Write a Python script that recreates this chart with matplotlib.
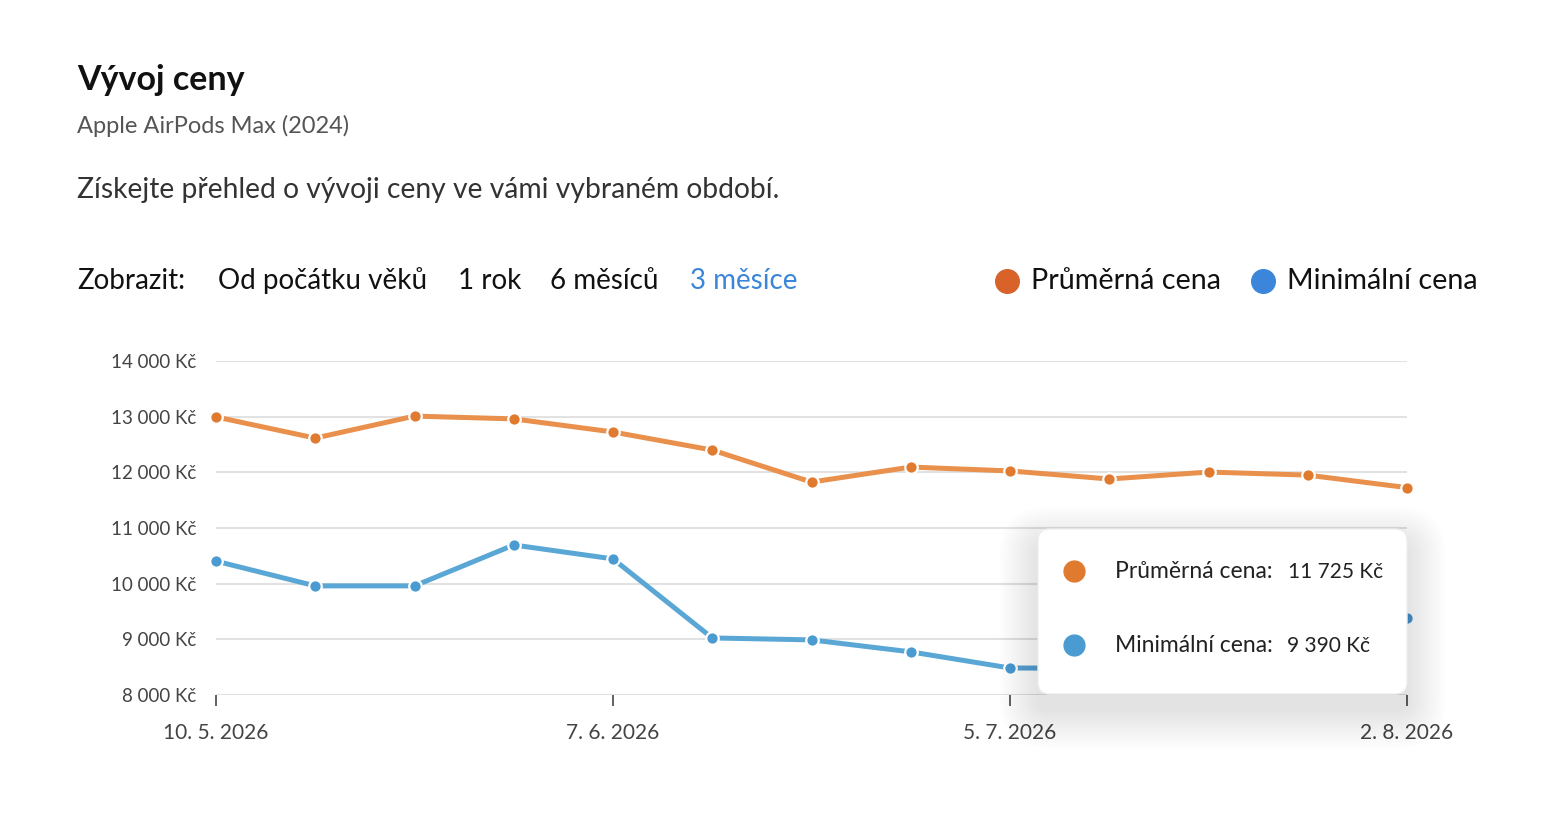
import matplotlib
matplotlib.use("Agg")
import matplotlib.pyplot as plt
from matplotlib.patches import FancyBboxPatch
import pandas as pd

plt.rcParams['font.family'] = ['Lato', 'DejaVu Sans']

# ---- data ----
dates = ["2026-05-10", "2026-05-17", "2026-05-24", "2026-05-31", "2026-06-07",
         "2026-06-14", "2026-06-21", "2026-06-28", "2026-07-05", "2026-07-12",
         "2026-07-19", "2026-07-26", "2026-08-02"]
avg_price = [12995, 12615, 13010, 12960, 12725, 12400, 11825, 12095, 12025,
             11880, 12005, 11950, 11725]
min_price = [10405, 9960, 9960, 10695, 10445, 9025, 8990, 8775, 8485,
             8480, 8560, 8830, 9390]
tick_dates = ["2026-05-10", "2026-06-07", "2026-07-05", "2026-08-02"]
tick_labels = ["10. 5. 2026", "7. 6. 2026", "5. 7. 2026", "2. 8. 2026"]
y_ticks = [8000, 9000, 10000, 11000, 12000, 13000, 14000]
y_labels = ["8 000 Kč", "9 000 Kč", "10 000 Kč", "11 000 Kč", "12 000 Kč",
            "13 000 Kč", "14 000 Kč"]
periods = ["Od počátku věků", "1 rok", "6 měsíců", "3 měsíce"]
series_names = ["Průměrná cena", "Minimální cena"]

W, H = 1544, 824
fig = plt.figure(figsize=(W / 100, H / 100), dpi=100)
fig.patch.set_facecolor("white")

x = pd.to_datetime(dates)
ax = fig.add_axes([216 / W, 1 - 695 / H, (1407 - 216) / W, (695 - 361) / H])
ax.set_facecolor("none")

ORANGE_L, ORANGE_M = "#E8904C", "#E07A2F"
BLUE_L, BLUE_M = "#5AA7D6", "#4A9BD1"

ax.plot(x, avg_price, color=ORANGE_L, lw=3.6, zorder=3, clip_on=False,
        solid_capstyle="round")
ax.plot(x, avg_price, ls="none", marker="o", ms=9, mfc=ORANGE_M, mec="white",
        mew=1.6, zorder=4, clip_on=False)
ax.plot(x, min_price, color=BLUE_L, lw=3.6, zorder=3, clip_on=False,
        solid_capstyle="round")
ax.plot(x, min_price, ls="none", marker="o", ms=9, mfc=BLUE_M, mec="white",
        mew=1.6, zorder=4, clip_on=False)

ax.set_xlim(x[0], x[-1])
ax.set_ylim(8000, 14000)
ax.set_yticks(y_ticks)
ax.set_yticklabels(y_labels)
ax.set_xticks(pd.to_datetime(tick_dates))
ax.set_xticklabels(tick_labels)
ax.grid(axis="y", color="#E2E2E2", lw=1.5, zorder=0)
ax.set_axisbelow(True)
for s in ax.spines.values():
    s.set_visible(False)
ax.tick_params(axis="y", length=0, pad=14, labelsize=13.5, labelcolor="#444444")
ax.tick_params(axis="x", length=8, width=1.3, color="#555555", pad=12,
               labelsize=15, labelcolor="#444444", direction="out")

# ---- overlay in pixel coordinates ----
ov = fig.add_axes([0, 0, 1, 1], zorder=10)
ov.set_xlim(0, W)
ov.set_ylim(H, 0)
ov.axis("off")
ov.patch.set_alpha(0)

ov.text(77, 80, "Vývoj ceny", fontsize=24.5, fontweight="bold", color="#111111",
        va="center", ha="left")
ov.text(77, 126, "Apple AirPods Max (2024)", fontsize=17, color="#555555",
        va="center", ha="left")
ov.text(77, 190, "Získejte přehled o vývoji ceny ve vámi vybraném období.",
        fontsize=20.3, color="#333333", va="center", ha="left")

ov.text(77, 281, "Zobrazit:", fontsize=20, color="#111111", va="center")
period_x = [218, 458, 550, 690]
for px, lab in zip(period_x, periods):
    ov.text(px, 281, lab, fontsize=20,
            color="#3B86D8" if lab == "3 měsíce" else "#111111", va="center")

# legend
ov.plot([1007], [281], marker="o", ms=17, color="#D8622A", ls="none")
ov.text(1031, 281, series_names[0], fontsize=20.7, color="#111111", va="center")
ov.plot([1263], [281], marker="o", ms=17, color="#3B86DB", ls="none")
ov.text(1287, 281, series_names[1], fontsize=20.7, color="#111111", va="center")

# tooltip shadow + box
bx0, by0, bx1, by1 = 1038, 529, 1407, 694
n = 14
for i in range(n):
    g = 2 + i * 2.8
    ov.add_patch(FancyBboxPatch((bx0 - g, by0 - g + 16), bx1 - bx0 + 2 * g,
                                by1 - by0 + 2 * g,
                                boxstyle="round,pad=0,rounding_size=%d" % (12 + g),
                                fc="#000000", ec="none", alpha=0.0075))
ov.add_patch(FancyBboxPatch((bx0, by0), bx1 - bx0, by1 - by0,
                            boxstyle="round,pad=0,rounding_size=12",
                            fc="white", ec="#EEEEEE", lw=1))
ov.plot([1074], [571], marker="o", ms=15, color=ORANGE_M, ls="none")
ov.plot([1074], [645], marker="o", ms=15, color=BLUE_M, ls="none")
ov.text(1115, 572, series_names[0] + ":", fontsize=16.5, color="#222222",
        va="center")
ov.text(1115, 646, series_names[1] + ":", fontsize=16.5, color="#222222",
        va="center")
ov.text(1288, 572, "%s Kč" % format(avg_price[-1], ",").replace(",", " "),
        fontsize=15, color="#222222", va="center")
ov.text(1287, 646, "%s Kč" % format(min_price[-1], ",").replace(",", " "),
        fontsize=15, color="#222222", va="center")

fig.savefig("out.png", dpi=100, facecolor="white")
